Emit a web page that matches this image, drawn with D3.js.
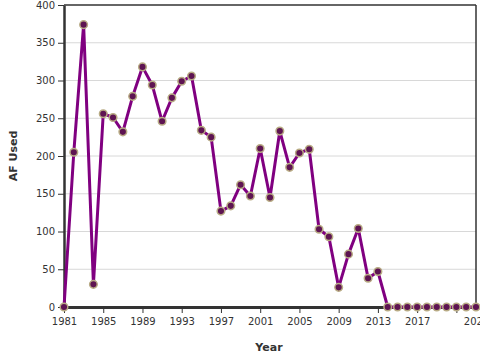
<!DOCTYPE html>
<html>
<head>
<meta charset="utf-8">
<script src="https://cdn.jsdelivr.net/npm/d3@7"></script>
<style>
  body { margin: 0; background: #fff; }
  svg { display: block; font-family: "DejaVu Sans", sans-serif; }
  .tick text { fill: #333; font-size: 10px; font-family: "DejaVu Sans", sans-serif; }
  .tick line { stroke: #333; }
</style>
</head>
<body>
<div id="chart"></div>
<script>
// Years 1981..2023, AF used per year.
const years = d3.range(1981, 2024);
const afUsed = [0, 205, 374, 30, 256, 251, 232, 279, 318, 294,
  246, 277, 299, 306, 234, 225, 127, 134, 162, 147,
  210, 145, 233, 185, 204, 209, 103, 93, 26, 70,
  104, 38, 47, 0, 0, 0, 0, 0, 0, 0,
  0, 0, 0];
const yTicks = [0, 50, 100, 150, 200, 250, 300, 350, 400];
const xTicks = [1981, 1985, 1989, 1993, 1997, 2001, 2005, 2009, 2013, 2017, 2021, 2023];
const xLabelsHidden = [2021];

const data = years.map((y, i) => ({ year: y, value: afUsed[i] }));

const width = 480, height = 360;
const margin = { top: 5, right: 4, bottom: 53, left: 64 };
const innerWidth = width - margin.left - margin.right;
const innerHeight = height - margin.top - margin.bottom;

const svg = d3.select("#chart").append("svg")
  .attr("width", width)
  .attr("height", height);

const g = svg.append("g")
  .attr("transform", `translate(${margin.left},${margin.top})`);

const x = d3.scaleLinear().domain([1981, 2023]).range([0, innerWidth]);
const y = d3.scaleLinear().domain([0, 400]).range([innerHeight, 0]);

// gridlines
g.append("g")
  .selectAll("line")
  .data(yTicks.filter(d => d > 0 && d < 400))
  .join("line")
  .attr("x1", 0).attr("x2", innerWidth)
  .attr("y1", d => y(d)).attr("y2", d => y(d))
  .attr("stroke", "#d8d8d8")
  .attr("stroke-width", 1);

// frame: top and right
g.append("line")
  .attr("x1", 0).attr("x2", innerWidth).attr("y1", 0).attr("y2", 0)
  .attr("stroke", "#333").attr("stroke-width", 1.5);
g.append("line")
  .attr("x1", innerWidth).attr("x2", innerWidth).attr("y1", 0).attr("y2", innerHeight)
  .attr("stroke", "#333").attr("stroke-width", 1.5);

// axes
const yAxis = g.append("g")
  .call(d3.axisLeft(y).tickValues(yTicks).tickSize(6).tickPadding(3).tickSizeOuter(0));
yAxis.attr("font-family", null);
yAxis.select(".domain").attr("stroke", "#333").attr("stroke-width", 2.5);

const xAxis = g.append("g")
  .attr("transform", `translate(0,${innerHeight})`)
  .call(d3.axisBottom(x).tickValues(xTicks).tickSize(6).tickPadding(5).tickSizeOuter(0)
    .tickFormat(d => xLabelsHidden.includes(d) ? "" : d3.format("d")(d)));
xAxis.attr("font-family", null);
xAxis.select(".domain").attr("stroke", "#333").attr("stroke-width", 3);
xAxis.selectAll(".tick").filter(d => d === 2023).select("line").remove();

// line
const line = d3.line()
  .x(d => x(d.year))
  .y(d => y(d.value));

g.append("path")
  .datum(data)
  .attr("fill", "none")
  .attr("stroke", "#800080")
  .attr("stroke-width", 3)
  .attr("stroke-linejoin", "round")
  .attr("d", line);

// points
g.selectAll(".dot")
  .data(data)
  .join("circle")
  .attr("class", "dot")
  .attr("cx", d => x(d.year))
  .attr("cy", d => y(d.value))
  .attr("r", 3.8)
  .attr("fill", "#5e1452")
  .attr("stroke", "#b8ab84")
  .attr("stroke-width", 1.5);

// axis titles
svg.append("text")
  .attr("transform", `translate(17,${margin.top + innerHeight / 2}) rotate(-90)`)
  .attr("text-anchor", "middle")
  .attr("font-size", 11)
  .attr("font-weight", "bold")
  .attr("fill", "#333")
  .text("AF Used");

svg.append("text")
  .attr("x", 269)
  .attr("y", 351)
  .attr("text-anchor", "middle")
  .attr("font-size", 11)
  .attr("font-weight", "bold")
  .attr("fill", "#333")
  .text("Year");
</script>
</body>
</html>
